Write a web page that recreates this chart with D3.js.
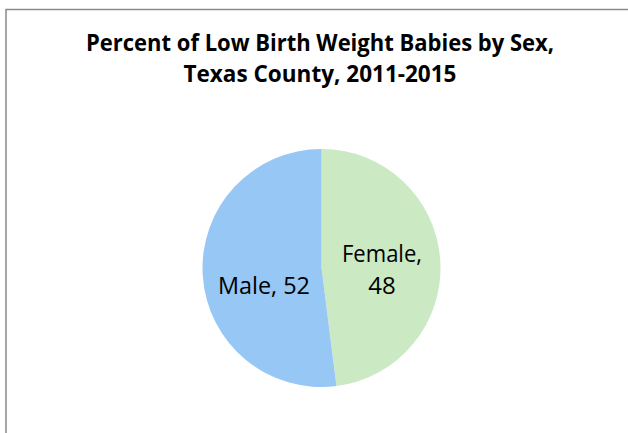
<!DOCTYPE html>
<html>
<head>
<meta charset="utf-8">
<script src="https://cdn.jsdelivr.net/npm/d3@7"></script>
<style>
  html, body { margin: 0; padding: 0; background: #fff; }
  svg { display: block; }
</style>
</head>
<body>
<div id="chart"></div>
<script>
// data
const categories = ["Female", "Male"];
const values     = [48, 52];
const colors     = ["#cbe9c3", "#96c7f5"];
const titleLines = ["Percent of Low Birth Weight Babies by Sex,", "Texas County, 2011-2015"];

const width = 628, height = 433;

const svg = d3.select("#chart")
    .append("svg")
    .attr("width", width)
    .attr("height", height);

svg.append("rect")
    .attr("width", width)
    .attr("height", height)
    .attr("fill", "#fff");

// chart area border (runs off the right and bottom edges)
svg.append("rect")
    .attr("x", 6)
    .attr("y", 9.5)
    .attr("width", width + 20)
    .attr("height", height + 20)
    .attr("fill", "none")
    .attr("stroke", "#8a8a8a")
    .attr("stroke-width", 1.5);

// title
const titleWidths = [468, 273];
svg.selectAll("text.title")
    .data(titleLines)
    .enter()
    .append("text")
    .attr("class", "title")
    .attr("x", 320)
    .attr("y", (d, i) => 51 + i * 31)
    .attr("text-anchor", "middle")
    .attr("font-family", "'Open Sans', sans-serif")
    .attr("font-weight", "bold")
    .attr("font-size", 22.5)
    .attr("textLength", (d, i) => titleWidths[i])
    .attr("lengthAdjust", "spacingAndGlyphs")
    .attr("fill", "#000")
    .text(d => d);

// pie
const cx = 321.5, cy = 268, radius = 119;

const pie = d3.pie()
    .sort(null)
    .value(d => d);

const arc = d3.arc()
    .innerRadius(0)
    .outerRadius(radius);

const g = svg.append("g")
    .attr("transform", "translate(" + cx + "," + cy + ")");

const arcs = pie(values);

g.selectAll("path")
    .data(arcs)
    .enter()
    .append("path")
    .attr("d", arc)
    .attr("fill", (d, i) => colors[i]);

// labels: Female wraps to two lines, Male on one
const labelLines = arcs.map((d, i) =>
    i === 0 ? [categories[i] + ",", String(values[i])]
            : [categories[i] + ", " + values[i]]);
const labelX = [60.5, -57.5];
const lineWidths = [[80, null], [92]];

g.selectAll("text.label")
    .data(arcs)
    .enter()
    .append("text")
    .attr("class", "label")
    .attr("text-anchor", "middle")
    .attr("font-family", "'Open Sans', sans-serif")
    .attr("font-size", 24)
    .attr("fill", "#000")
    .each(function(d, i) {
        const lines = labelLines[i];
        const lh = 32;
        const base = 26 - (lines.length - 1) * lh;
        lines.forEach((t, j) => {
            const ts = d3.select(this).append("tspan")
                .attr("x", labelX[i])
                .attr("y", base + j * lh)
                .text(t);
            if (lineWidths[i][j]) {
                ts.attr("textLength", lineWidths[i][j])
                  .attr("lengthAdjust", "spacingAndGlyphs");
            }
        });
    });
</script>
</body>
</html>
